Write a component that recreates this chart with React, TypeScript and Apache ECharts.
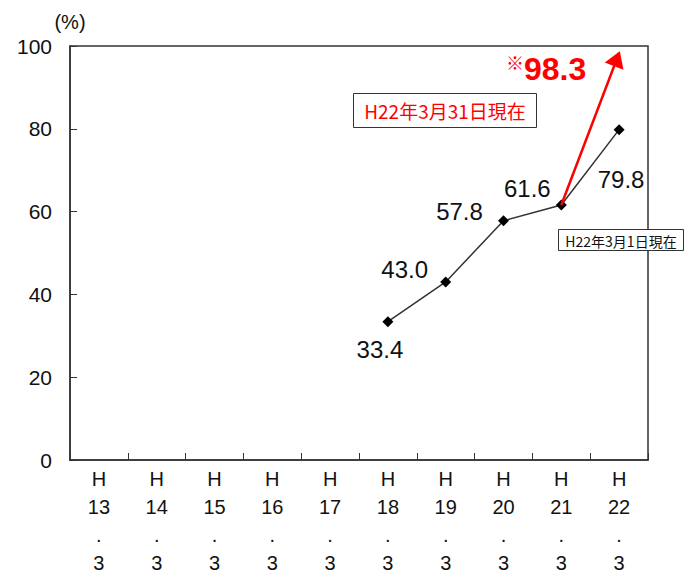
import React, { useEffect, useRef } from "react";
import * as echarts from "echarts";

const categories = ["H13", "H14", "H15", "H16", "H17", "H18", "H19", "H20", "H21", "H22"];
const axisLabels = ["H\n13\n.\n3", "H\n14\n.\n3", "H\n15\n.\n3", "H\n16\n.\n3", "H\n17\n.\n3", "H\n18\n.\n3", "H\n19\n.\n3", "H\n20\n.\n3", "H\n21\n.\n3", "H\n22\n.\n3"];
const rates: (number | null)[] = [null, null, null, null, null, 33.4, 43.0, 57.8, 61.6, 79.8];
const labelOffsets: [number, number][] = [[0, 0], [0, 0], [0, 0], [0, 0], [0, 0], [-8, 28], [-41, -12], [-44, -9], [-34, -16], [2, 50]];
const updateFrom = { cat: "H21", value: 61.6 };
const updateTo = { cat: "H22", value: 98.3 };
const yTicks = { min: 0, max: 100, interval: 20 };
const noteRed = "H22年3月31日現在";
const noteBlack = "H22年3月1日現在";

export default function App() {
  const ref = useRef<HTMLDivElement>(null);
  useEffect(() => {
    if (!ref.current) return;
    const chart = echarts.init(ref.current, null, { renderer: "svg" });
    const font = "'Liberation Sans', Arial, sans-serif";
    const jp = "'Noto Sans CJK JP', sans-serif";
    chart.setOption({
      animation: false,
      backgroundColor: "#fff",
      grid: { left: 70, right: 38, top: 46, bottom: 113, show: true, borderColor: "#333", borderWidth: 1.5, backgroundColor: "transparent" },
      xAxis: {
        type: "category",
        data: categories,
        boundaryGap: true,
        axisLine: { lineStyle: { color: "#333", width: 1.5 } },
        axisTick: { show: true, inside: true, length: 7, lineStyle: { color: "#333", width: 1 } },
        axisLabel: {
          formatter: (_v: string, i: number) => axisLabels[i],
          color: "#111",
          fontSize: 20,
          lineHeight: 28,
          margin: 5,
          fontFamily: font,
        },
        splitLine: { show: false },
      },
      yAxis: {
        type: "value",
        min: yTicks.min,
        max: yTicks.max,
        interval: yTicks.interval,
        name: "(%)",
        nameGap: 14,
        nameTextStyle: { color: "#111", fontSize: 20, fontFamily: font, align: "center" },
        axisLine: { show: true, lineStyle: { color: "#333", width: 1.5 } },
        axisTick: { show: true, inside: true, length: 7, lineStyle: { color: "#333", width: 1 } },
        axisLabel: { color: "#111", fontSize: 21, margin: 18, fontFamily: font },
        splitLine: { show: false },
      },
      series: [
        {
          type: "line",
          data: rates.map((v, i) => ({
            value: v,
            label: { offset: labelOffsets[i] },
          })),
          symbol: "diamond",
          symbolSize: 11,
          showSymbol: true,
          itemStyle: { color: "#000" },
          lineStyle: { color: "#333", width: 1.5 },
          label: {
            show: true,
            position: "inside",
            color: "#111",
            fontSize: 24,
            fontFamily: font,
            formatter: (p: any) => (p.value == null ? "" : Number(p.value).toFixed(1)),
          },
          markLine: {
            silent: true,
            symbol: ["none", "triangle"],
            symbolSize: [20, 16],
            symbolOffset: [0, [0, 6]],
            label: { show: false },
            lineStyle: { color: "#ff0000", width: 2.5, type: "solid" },
            data: [[{ coord: [updateFrom.cat, updateFrom.value] }, { coord: [updateTo.cat, updateTo.value] }]],
          },
          z: 3,
        },
      ],
      graphic: [
        {
          type: "text",
          left: 506,
          top: 53,
          style: {
            text: "{a|※}{b|" + updateTo.value.toFixed(1) + "}",
            rich: {
              a: { fontSize: 18, fontWeight: "bold", fill: "#ff0000", fontFamily: jp, verticalAlign: "top", padding: [0, 0, 14, 0] },
              b: { fontSize: 32, fontWeight: "bold", fill: "#ff0000", fontFamily: font },
            },
          },
        },
        {
          type: "group",
          left: 353,
          top: 93,
          children: [
            { type: "rect", shape: { x: 0, y: 0, width: 183, height: 34 }, style: { fill: "#fff", stroke: "#333", lineWidth: 1 } },
            { type: "text", x: 91.5, y: 17, style: { text: noteRed, fill: "#ff0000", fontSize: 19, fontFamily: jp, align: "center", verticalAlign: "middle" } },
          ],
        },
        {
          type: "group",
          left: 558,
          top: 229,
          children: [
            { type: "rect", shape: { x: 0, y: 0, width: 125, height: 21 }, style: { fill: "#fff", stroke: "#333", lineWidth: 1 } },
            { type: "text", x: 62.5, y: 11, style: { text: noteBlack, fill: "#111", fontSize: 14, fontFamily: jp, align: "center", verticalAlign: "middle" } },
          ],
        },
      ],
    });
    return () => chart.dispose();
  }, []);
  return <div ref={ref} style={{ position: "fixed", left: 0, top: 0, width: 686, height: 577 }} />;
}
